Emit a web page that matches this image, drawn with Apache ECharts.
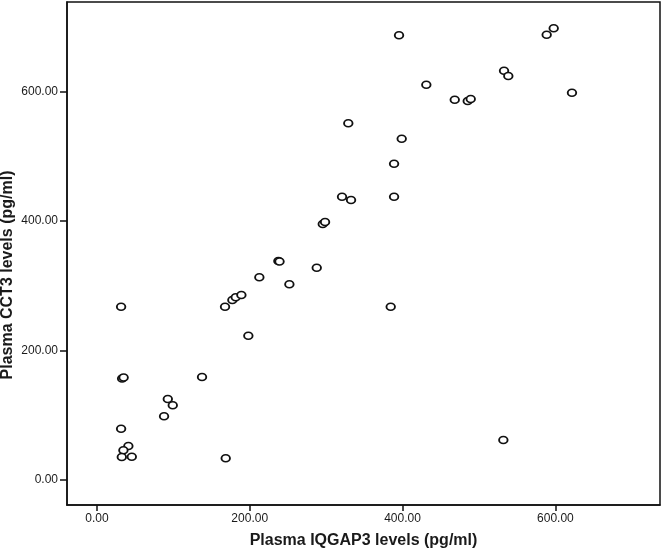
<!DOCTYPE html>
<html>
<head>
<meta charset="utf-8">
<script src="https://cdn.jsdelivr.net/npm/echarts@6/dist/echarts.min.js"></script>
<style>
html,body{margin:0;padding:0;background:#fff;}
#chart{width:664px;height:550px;}
</style>
</head>
<body>
<div id="chart"></div>
<script>
// Plasma IQGAP3 levels (pg/ml)
const iqgap3 = [31.7, 33.0, 35.0, 137.6, 92.8, 99.3, 87.9, 31.7, 41.2, 34.7, 32.6, 45.7, 168.6,
  167.7, 198.2, 177.3, 181.7, 189.1, 212.6, 329.0, 398.9, 388.9, 320.8, 332.6, 388.9, 295.6,
  298.6, 237.5, 239.0, 287.7, 251.9, 395.4, 597.8, 588.6, 532.8, 538.4, 431.1, 468.3, 485.3,
  489.2, 621.7, 384.5, 531.9];
// Plasma CCT3 levels (pg/ml)
const cct3 = [267.8, 157.0, 158.5, 159.1, 125.2, 115.4, 98.4, 79.3, 52.5, 45.9, 35.5, 36.0, 33.5,
  267.8, 223.0, 278.1, 282.3, 285.8, 313.2, 551.1, 527.4, 488.7, 437.7, 432.6, 437.7, 395.6,
  398.6, 338.5, 337.5, 328.0, 302.4, 687.1, 697.9, 688.1, 632.4, 624.2, 610.8, 587.6, 585.6,
  588.7, 598.4, 267.8, 61.8];
const xTicks = [0, 200, 400, 600];
const yTicks = [0, 200, 400, 600];
const xTitle = 'Plasma IQGAP3 levels (pg/ml)';
const yTitle = 'Plasma CCT3 levels (pg/ml)';

const points = iqgap3.map((v, i) => [v, cct3[i]]);

const chart = echarts.init(document.getElementById('chart'), null, {renderer: 'canvas'});
const labelStyle = {color: '#1a1a1a', fontFamily: 'Liberation Sans, Arial, sans-serif', fontSize: 12};
const titleStyle = {color: '#1a1a1a', fontFamily: 'Liberation Sans, Arial, sans-serif', fontSize: 16, fontWeight: 'bold'};
chart.setOption({
  animation: false,
  backgroundColor: '#fff',
  grid: {left: 67, right: 4, top: 2, bottom: 45, show: true, borderColor: '#111', borderWidth: 1.5,
         containLabel: false, outerBoundsMode: 'none'},
  xAxis: {
    type: 'value', min: -39.1, max: 736.9,
    name: xTitle, nameLocation: 'middle', nameGap: 28, nameMoveOverlap: false,
    nameTextStyle: titleStyle,
    axisLine: {show: true, onZero: false, lineStyle: {color: '#111', width: 1.5}},
    axisTick: {show: true, length: 6, customValues: xTicks, lineStyle: {color: '#111', width: 1.5}},
    axisLabel: Object.assign({customValues: xTicks, margin: 8, formatter: v => v.toFixed(2)}, labelStyle),
    splitLine: {show: false}
  },
  yAxis: {
    type: 'value', min: -38.6, max: 738.6,
    name: yTitle, nameLocation: 'middle', nameGap: 51, nameRotate: 90, nameMoveOverlap: false,
    nameTextStyle: Object.assign({padding: [0, 43, 0, 0]}, titleStyle),
    axisLine: {show: true, onZero: false, lineStyle: {color: '#111', width: 1.5}},
    axisTick: {show: true, length: 7, customValues: yTicks, lineStyle: {color: '#111', width: 1.5}},
    axisLabel: Object.assign({customValues: yTicks, margin: 9, formatter: v => v.toFixed(2)}, labelStyle),
    splitLine: {show: false}
  },
  series: [{
    type: 'scatter',
    data: points,
    symbol: 'circle',
    symbolSize: [8.5, 7],
    itemStyle: {color: '#fff', borderColor: '#111', borderWidth: 1.7, opacity: 1}
  }]
});
</script>
</body>
</html>
